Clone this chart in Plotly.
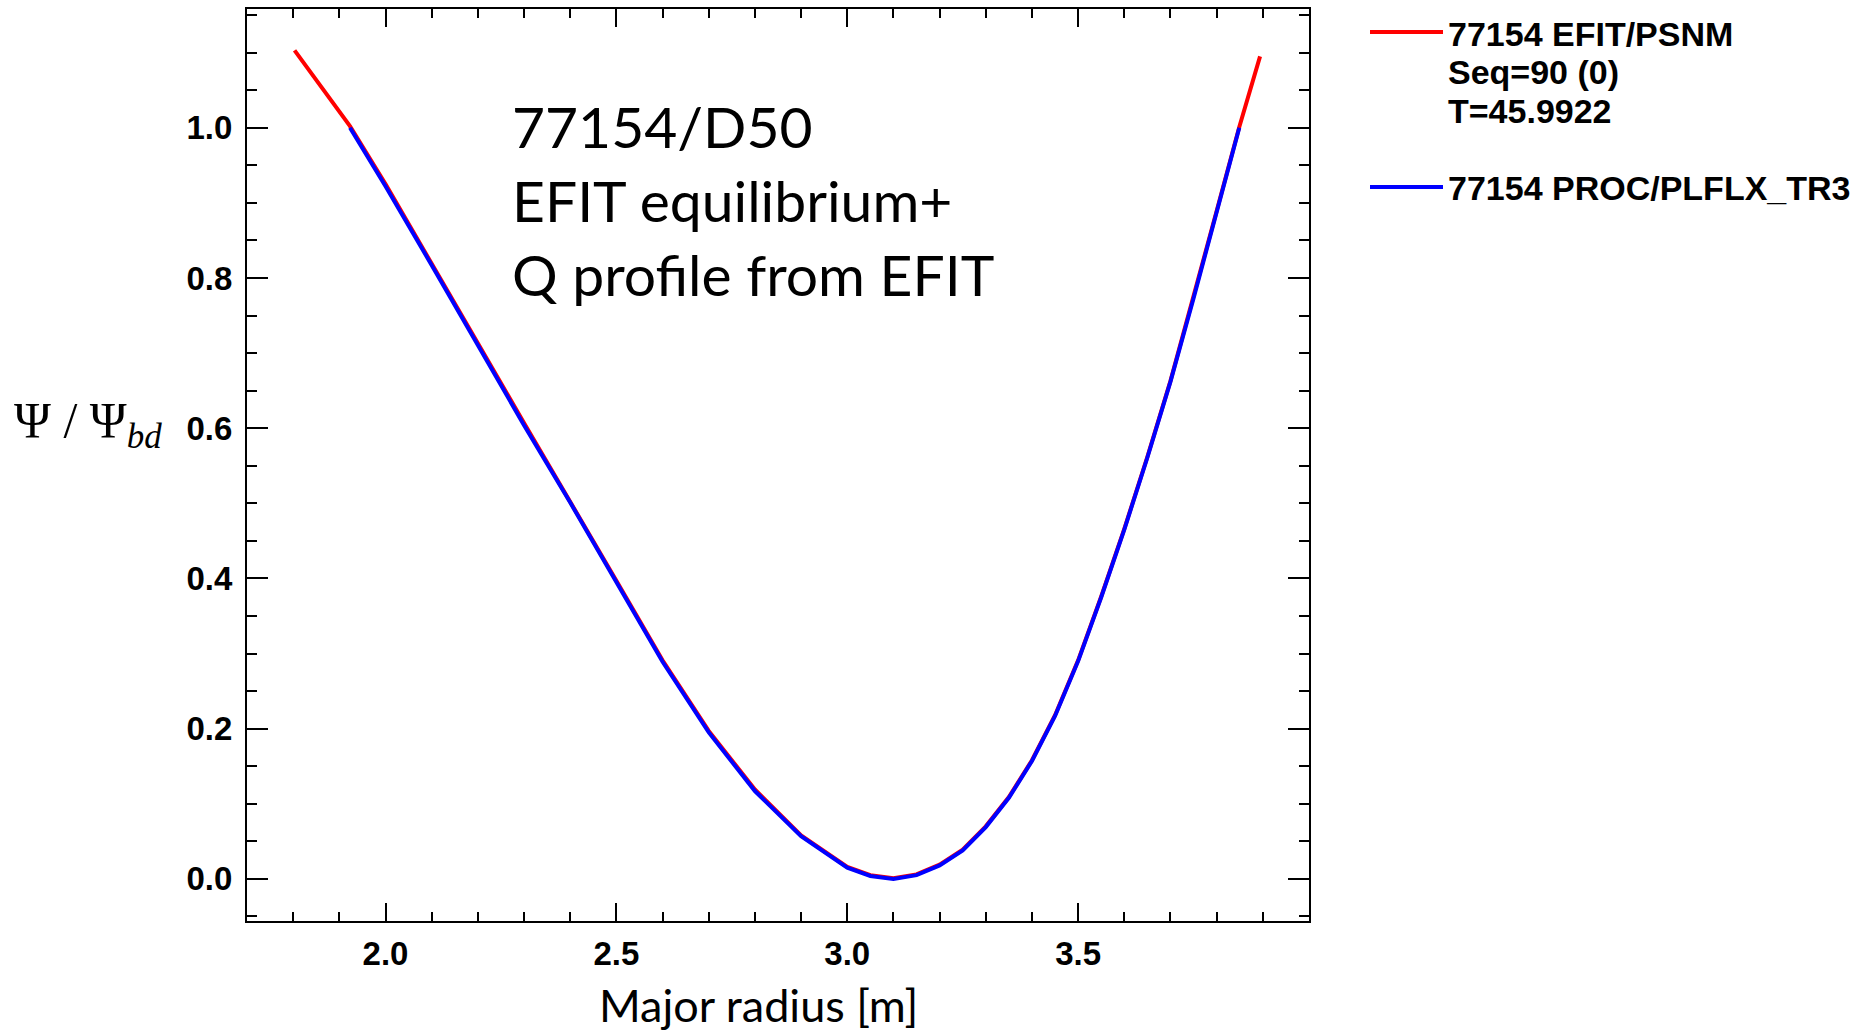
import plotly.graph_objects as go

# ---- data ----
blue_r = [1.923, 2.0, 2.1, 2.2, 2.3, 2.4, 2.5, 2.6, 2.7, 2.8, 2.9, 3.0, 3.05, 3.1,
          3.15, 3.2, 3.25, 3.3, 3.35, 3.4, 3.45, 3.5, 3.55, 3.6, 3.65, 3.7, 3.75, 3.8, 3.849]
blue_psi = [1.000, 0.922, 0.817, 0.710, 0.604, 0.501, 0.394, 0.289, 0.195, 0.117, 0.057,
            0.015, 0.004, 0.000, 0.005, 0.018, 0.038, 0.069, 0.108, 0.157, 0.217, 0.290,
            0.375, 0.465, 0.561, 0.662, 0.773, 0.888, 1.000]

red_r = [1.803, 1.86, 1.923, 2.0, 2.1, 2.2, 2.3, 2.4, 2.5, 2.6, 2.7, 2.8, 2.9, 3.0, 3.05,
         3.1, 3.15, 3.2, 3.25, 3.3, 3.35, 3.4, 3.45, 3.5, 3.55, 3.6, 3.65, 3.7, 3.75, 3.8,
         3.849, 3.894]
red_psi = [1.103, 1.054, 1.002, 0.925, 0.820, 0.713, 0.607, 0.503, 0.397, 0.291, 0.197,
           0.119, 0.058, 0.016, 0.005, 0.001, 0.006, 0.019, 0.039, 0.070, 0.109, 0.158,
           0.218, 0.291, 0.376, 0.466, 0.562, 0.663, 0.774, 0.889, 1.001, 1.095]

x_ticks = [2.0, 2.5, 3.0, 3.5]
y_ticks = [0.0, 0.2, 0.4, 0.6, 0.8, 1.0]

red_name = ["77154 EFIT/PSNM", "Seq=90 (0)", "T=45.9922"]
blue_name = "77154 PROC/PLFLX_TR3"
note_lines = ["77154/D50", "EFIT equilibrium+", "Q profile from EFIT"]

W, H = 1860, 1034
L, R, T, B = 247, 551, 9, 113
PW, PH = W - L - R, H - T - B


def px(x):
    return (x - L) / PW


def py(y):
    return (H - B - y) / PH


fig = go.Figure()
fig.add_trace(go.Scatter(x=red_r, y=red_psi, mode="lines",
                         line=dict(color="#ff0000", width=4), showlegend=False))
fig.add_trace(go.Scatter(x=blue_r, y=blue_psi, mode="lines",
                         line=dict(color="#0000ff", width=4), showlegend=False))

tickfont = dict(family="Liberation Sans, Arial, sans-serif", size=33, color="black",
                weight="bold")
legfont = dict(family="Liberation Sans, Arial, sans-serif", size=34, color="black",
               weight="bold")

fig.update_layout(
    width=W, height=H,
    margin=dict(l=L, r=R, t=T, b=B, autoexpand=False),
    paper_bgcolor="white", plot_bgcolor="white",
    showlegend=False,
    xaxis=dict(range=[1.7, 4.0], tickmode="array", tickvals=x_ticks,
               ticktext=["%.1f" % v for v in x_ticks],
               ticks="inside", ticklen=18, tickwidth=2, tickcolor="black",
               showline=True, linewidth=2, linecolor="black", mirror="allticks",
               showgrid=False, zeroline=False, tickfont=tickfont,
               ticklabelstandoff=2,
               minor=dict(dtick=0.1, tick0=1.7, ticks="inside", ticklen=9,
                          tickwidth=2, tickcolor="black", showgrid=False)),
    yaxis=dict(range=[-0.056, 1.158], tickmode="array", tickvals=y_ticks,
               ticktext=["%.1f" % v for v in y_ticks],
               ticks="inside", ticklen=21, tickwidth=2, tickcolor="black",
               showline=True, linewidth=2, linecolor="black", mirror="allticks",
               showgrid=False, zeroline=False, tickfont=tickfont,
               ticklabelstandoff=6,
               minor=dict(dtick=0.05, tick0=0.0, ticks="inside", ticklen=10,
                          tickwidth=2, tickcolor="black", showgrid=False)),
)

ann = []
ann.append(dict(xref="paper", yref="paper", x=px(510), y=py(200), xanchor="left",
                yanchor="middle", align="left", showarrow=False,
                text="<br>".join(note_lines),
                font=dict(family="Lato, sans-serif", size=57, color="black")))
ann.append(dict(xref="paper", yref="paper", x=px(758), y=py(1005), xanchor="center",
                yanchor="middle", showarrow=False, text="Major radius [m]",
                font=dict(family="Lato, sans-serif", size=45, color="black")))
ann.append(dict(xref="paper", yref="paper", x=px(12), y=py(424), xanchor="left",
                yanchor="middle", showarrow=False,
                text="Ψ / Ψ<sub><i>bd</i></sub>",
                font=dict(family="Liberation Serif, Times New Roman, serif", size=50,
                          color="black")))
for i, t in enumerate(red_name):
    ann.append(dict(xref="paper", yref="paper", x=px(1446), y=py(33.7 + 38.5 * i),
                    xanchor="left", yanchor="middle", showarrow=False, text=t,
                    font=legfont))
ann.append(dict(xref="paper", yref="paper", x=px(1446), y=py(188), xanchor="left",
                yanchor="middle", showarrow=False, text=blue_name, font=legfont))
fig.update_layout(annotations=ann)

fig.add_shape(type="line", xref="paper", yref="paper", x0=px(1370), x1=px(1443),
              y0=py(32), y1=py(32), line=dict(color="#ff0000", width=4))
fig.add_shape(type="line", xref="paper", yref="paper", x0=px(1370), x1=px(1443),
              y0=py(187), y1=py(187), line=dict(color="#0000ff", width=4))

fig.write_html("out.html")
